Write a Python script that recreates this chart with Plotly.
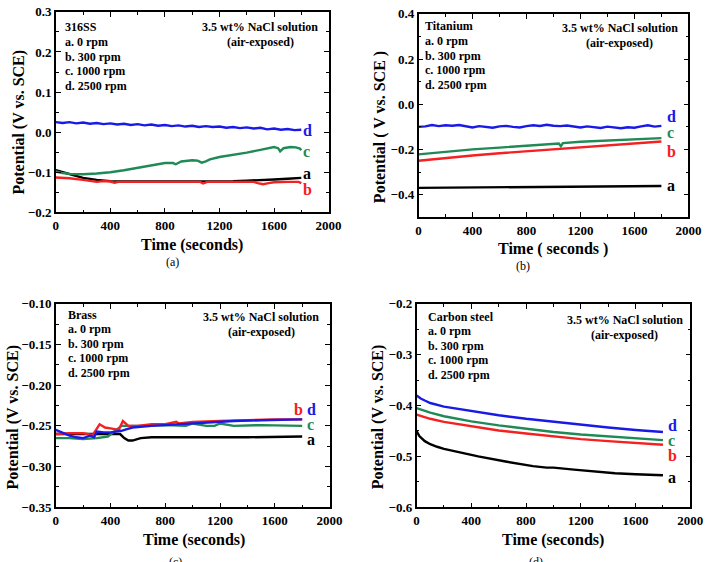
import plotly.graph_objects as go

W, H = 718, 562
FONT = "Liberation Serif, Times New Roman, Times, serif"
BLUE = "#1a1ae6"
GREEN = "#1f8a55"
RED = "#f52020"
BLACK = "#000000"

# ---------------- (a) 316SS ----------------
a_t_a = [0, 50, 100, 150, 200, 300, 400, 500, 700, 900, 1100, 1300, 1400, 1500, 1600, 1700, 1800]
a_v_a = [-0.095, -0.100, -0.105, -0.110, -0.114, -0.119, -0.122, -0.123, -0.123, -0.123, -0.123, -0.122, -0.121, -0.120, -0.118, -0.116, -0.114]
a_t_b = [0, 100, 200, 300, 350, 400, 430, 460, 600, 800, 1000, 1060, 1080, 1110, 1300, 1450, 1480, 1520, 1560, 1600, 1700, 1780, 1800]
a_v_b = [-0.113, -0.115, -0.119, -0.124, -0.122, -0.123, -0.126, -0.124, -0.124, -0.124, -0.124, -0.124, -0.128, -0.124, -0.124, -0.124, -0.127, -0.130, -0.127, -0.125, -0.124, -0.124, -0.127]
a_t_c = [0, 50, 100, 200, 300, 400, 500, 600, 700, 800, 860, 880, 920, 1000, 1040, 1070, 1100, 1130, 1200, 1300, 1400, 1500, 1600, 1630, 1645, 1670, 1720, 1760, 1790, 1800]
a_v_c = [-0.098, -0.102, -0.104, -0.105, -0.103, -0.100, -0.095, -0.089, -0.083, -0.077, -0.077, -0.080, -0.073, -0.070, -0.071, -0.076, -0.073, -0.068, -0.062, -0.057, -0.051, -0.044, -0.037, -0.040, -0.048, -0.040, -0.037, -0.038, -0.041, -0.045]
a_v_d = [0.025, 0.023, 0.025, 0.022, 0.024, 0.021, 0.023, 0.020, 0.022, 0.019, 0.021, 0.018, 0.020, 0.017, 0.019, 0.016, 0.018, 0.015, 0.017, 0.014,
         0.016, 0.013, 0.015, 0.013, 0.014, 0.011, 0.013, 0.010, 0.012, 0.009, 0.011, 0.007, 0.009, 0.006, 0.008, 0.005, 0.006]

# ---------------- (b) Titanium ----------------
b_t_a = [0, 300, 600, 900, 1200, 1500, 1800]
b_v_a = [-0.370, -0.369, -0.367, -0.366, -0.364, -0.363, -0.362]
b_t_b = [0, 200, 400, 600, 800, 1000, 1050, 1070, 1200, 1400, 1600, 1800]
b_v_b = [-0.250, -0.237, -0.227, -0.217, -0.208, -0.199, -0.197, -0.198, -0.189, -0.180, -0.172, -0.165]
b_t_c = [0, 200, 400, 600, 800, 1000, 1040, 1055, 1070, 1200, 1400, 1600, 1800]
b_v_c = [-0.222, -0.210, -0.200, -0.192, -0.184, -0.176, -0.174, -0.186, -0.172, -0.166, -0.160, -0.155, -0.150]
b_v_d = [-0.100, -0.098, -0.092, -0.097, -0.093, -0.095, -0.092, -0.099, -0.103, -0.097, -0.101, -0.104, -0.098, -0.096, -0.100, -0.103, -0.097, -0.093, -0.096, -0.091,
         -0.095, -0.097, -0.094, -0.099, -0.103, -0.098, -0.101, -0.105, -0.099, -0.103, -0.106, -0.102, -0.104, -0.098, -0.093, -0.099, -0.096]

# ---------------- (c) Brass ----------------
c_t_a = [0, 200, 400, 470, 500, 530, 560, 620, 700, 1000, 1400, 1800]
c_v_a = [-0.260, -0.260, -0.260, -0.260, -0.265, -0.268, -0.268, -0.265, -0.264, -0.264, -0.264, -0.263]
c_t_b = [0, 100, 200, 270, 320, 360, 400, 460, 490, 530, 600, 700, 800, 860, 880, 900, 1000, 1200, 1400, 1600, 1800]
c_v_b = [-0.260, -0.259, -0.259, -0.261, -0.248, -0.252, -0.253, -0.255, -0.244, -0.250, -0.250, -0.248, -0.248, -0.246, -0.245, -0.247, -0.245, -0.244, -0.243, -0.242, -0.242]
c_t_c = [0, 100, 200, 300, 380, 430, 480, 600, 800, 950, 1000, 1100, 1160, 1200, 1300, 1500, 1800]
c_v_c = [-0.265, -0.265, -0.266, -0.265, -0.263, -0.256, -0.250, -0.250, -0.249, -0.250, -0.247, -0.250, -0.250, -0.247, -0.250, -0.249, -0.250]
c_t_d = [0, 50, 100, 150, 200, 250, 280, 300, 350, 400, 450, 480, 520, 560, 700, 900, 1100, 1300, 1500, 1800]
c_v_d = [-0.255, -0.259, -0.262, -0.264, -0.265, -0.262, -0.264, -0.257, -0.258, -0.258, -0.257, -0.256, -0.254, -0.252, -0.250, -0.248, -0.246, -0.244, -0.243, -0.242]

# ---------------- (d) Carbon steel ----------------
d_t_a = [0, 20, 60, 100, 150, 200, 300, 450, 650, 850, 950, 1000, 1150, 1300, 1450, 1600, 1800]
d_v_a = [-0.450, -0.460, -0.470, -0.476, -0.481, -0.485, -0.491, -0.500, -0.510, -0.519, -0.522, -0.522, -0.526, -0.530, -0.533, -0.535, -0.537]
d_t_b = [0, 50, 100, 200, 400, 600, 800, 1000, 1200, 1400, 1600, 1800]
d_v_b = [-0.418, -0.422, -0.426, -0.432, -0.441, -0.449, -0.455, -0.461, -0.466, -0.470, -0.474, -0.477]
d_t_c = [0, 50, 100, 200, 400, 600, 800, 1000, 1200, 1400, 1600, 1800]
d_v_c = [-0.405, -0.410, -0.414, -0.421, -0.431, -0.439, -0.446, -0.452, -0.457, -0.461, -0.465, -0.468]
d_t_d = [0, 30, 60, 100, 200, 400, 600, 800, 1000, 1200, 1400, 1600, 1800]
d_v_d = [-0.380, -0.386, -0.390, -0.395, -0.402, -0.411, -0.419, -0.426, -0.432, -0.438, -0.443, -0.448, -0.452]

noisy_t = list(range(0, 1801, 50))

fig = go.Figure()

def line(t, v, color, xa, ya):
    fig.add_trace(go.Scatter(x=t, y=v, mode="lines", line=dict(color=color, width=2.4),
                             xaxis=xa, yaxis=ya, showlegend=False, hoverinfo="skip"))

# panel a
line(a_t_a, a_v_a, BLACK, "x", "y")
line(a_t_b, a_v_b, RED, "x", "y")
line(a_t_c, a_v_c, GREEN, "x", "y")
line(noisy_t, a_v_d, BLUE, "x", "y")
# panel b
line(b_t_a, b_v_a, BLACK, "x2", "y2")
line(b_t_b, b_v_b, RED, "x2", "y2")
line(b_t_c, b_v_c, GREEN, "x2", "y2")
line(noisy_t, b_v_d, BLUE, "x2", "y2")
# panel c
line(c_t_a, c_v_a, BLACK, "x3", "y3")
line(c_t_c, c_v_c, GREEN, "x3", "y3")
line(c_t_b, c_v_b, RED, "x3", "y3")
line(c_t_d, c_v_d, BLUE, "x3", "y3")
# panel d
line(d_t_a, d_v_a, BLACK, "x4", "y4")
line(d_t_b, d_v_b, RED, "x4", "y4")
line(d_t_c, d_v_c, GREEN, "x4", "y4")
line(d_t_d, d_v_d, BLUE, "x4", "y4")

def px_dom(x0, x1):
    return [x0 / W, x1 / W]

def py_dom(top, bottom):
    return [1 - bottom / H, 1 - top / H]

tickfont = dict(family=FONT, size=13, color="black", weight="bold")

def xaxis(dom, anchor):
    return dict(domain=dom, anchor=anchor, range=[0, 2000], dtick=400, tick0=0,
                ticks="inside", ticklen=5, tickwidth=1.3, tickcolor="black",
                minor=dict(ticks="inside", ticklen=3, dtick=200, tickcolor="black", tickwidth=1.2),
                showline=True, linecolor="black", linewidth=1.5, mirror="ticks",
                showgrid=False, zeroline=False, tickfont=tickfont, tickformat="d")

def yaxis(dom, anchor, rng, dtick, fmt):
    return dict(domain=dom, anchor=anchor, range=rng, dtick=dtick, tick0=0,
                ticks="inside", ticklen=5, tickwidth=1.3, tickcolor="black",
                minor=dict(ticks="inside", ticklen=3, dtick=dtick / 2, tick0=0, tickcolor="black", tickwidth=1.2),
                showline=True, linecolor="black", linewidth=1.5, mirror="ticks",
                showgrid=False, zeroline=False, tickfont=tickfont, tickformat=fmt)

fig.update_layout(
    width=W, height=H, margin=dict(l=0, r=0, t=0, b=0),
    paper_bgcolor="white", plot_bgcolor="white",
    font=dict(family=FONT, color="black"),
    xaxis=xaxis(px_dom(54, 333), "y"),
    yaxis=yaxis(py_dom(5, 211), "x", [-0.2, 0.3], 0.1, ".1f"),
    xaxis2=xaxis(px_dom(425, 701), "y2"),
    yaxis2=yaxis(py_dom(7, 216), "x2", [-0.5, 0.4], 0.2, ".1f"),
    xaxis3=xaxis(px_dom(54, 334), "y3"),
    yaxis3=yaxis(py_dom(305, 514), "x3", [-0.35, -0.10], 0.05, ".2f"),
    xaxis4=xaxis(px_dom(423, 703), "y4"),
    yaxis4=yaxis(py_dom(305, 514), "x4", [-0.6, -0.2], 0.1, ".1f"),
)

anns = []

def txt(x, y, s, size=12, color="black", bold=True, xanchor="left", angle=0):
    anns.append(dict(xref="paper", yref="paper", x=x / W, y=1 - y / H, text=s,
                     showarrow=False, xanchor=xanchor, yanchor="middle", textangle=angle,
                     borderpad=0,
                     font=dict(family=FONT, size=size, color=color, weight="bold" if bold else "normal")))

legend_lines = ["a. 0 rpm", "b. 300 rpm", "c. 1000 rpm", "d. 2500 rpm"]

def panel_text(name, lx, ly, nx, ny):
    txt(lx, ly, name)
    for i, s in enumerate(legend_lines):
        txt(lx, ly + 15 * (i + 1), s)
    txt(nx, ny, "3.5 wt% NaCl solution", xanchor="center")
    txt(nx, ny + 15, "(air-exposed)", xanchor="center")

panel_text("316SS", 62, 21, 263, 21)
panel_text("Titanium", 431, 20, 631, 22)
panel_text("Brass", 65, 316, 264, 319)
panel_text("Carbon steel", 434, 318, 636, 322)

# curve labels
for (x, y, s, c) in [(306, 127, "d", BLUE), (306, 148, "c", GREEN), (306, 171, "a", BLACK), (306, 187, "b", RED),
                     (678, 112, "d", BLUE), (678, 129, "c", GREEN), (678, 148, "b", RED), (678, 183, "a", BLACK),
                     (297, 414, "b", RED), (310, 414, "d", BLUE), (310, 429, "c", GREEN), (310, 444, "a", BLACK),
                     (679, 430, "d", BLUE), (679, 445, "c", GREEN), (679, 461, "b", RED), (679, 483, "a", BLACK)]:
    txt(x, y, s, size=16, color=c)

# axis titles
txt(16, 118, "Potential (V vs. SCE)", size=16, xanchor="center", angle=-90)
txt(385, 123, "Potential ( V vs. SCE )", size=16, xanchor="center", angle=-90)
txt(10, 421, "Potential (V vs. SCE)", size=16, xanchor="center", angle=-90)
txt(383, 421, "Potential (V vs. SCE)", size=16, xanchor="center", angle=-90)

txt(193, 245, "Time (seconds)", size=16, xanchor="center")
txt(563, 249, "Time ( seconds )", size=16, xanchor="center")
txt(195, 548, "Time (seconds)", size=16, xanchor="center")
txt(563, 548, "Time (seconds)", size=16, xanchor="center")

txt(173, 262, "(a)", size=12, bold=False, xanchor="center")
txt(532, 266, "(b)", size=12, bold=False, xanchor="center")
txt(176, 570, "(c)", size=12, bold=False, xanchor="center")
txt(545, 570, "(d)", size=12, bold=False, xanchor="center")

fig.update_layout(annotations=anns)
fig.write_html("out.html")
